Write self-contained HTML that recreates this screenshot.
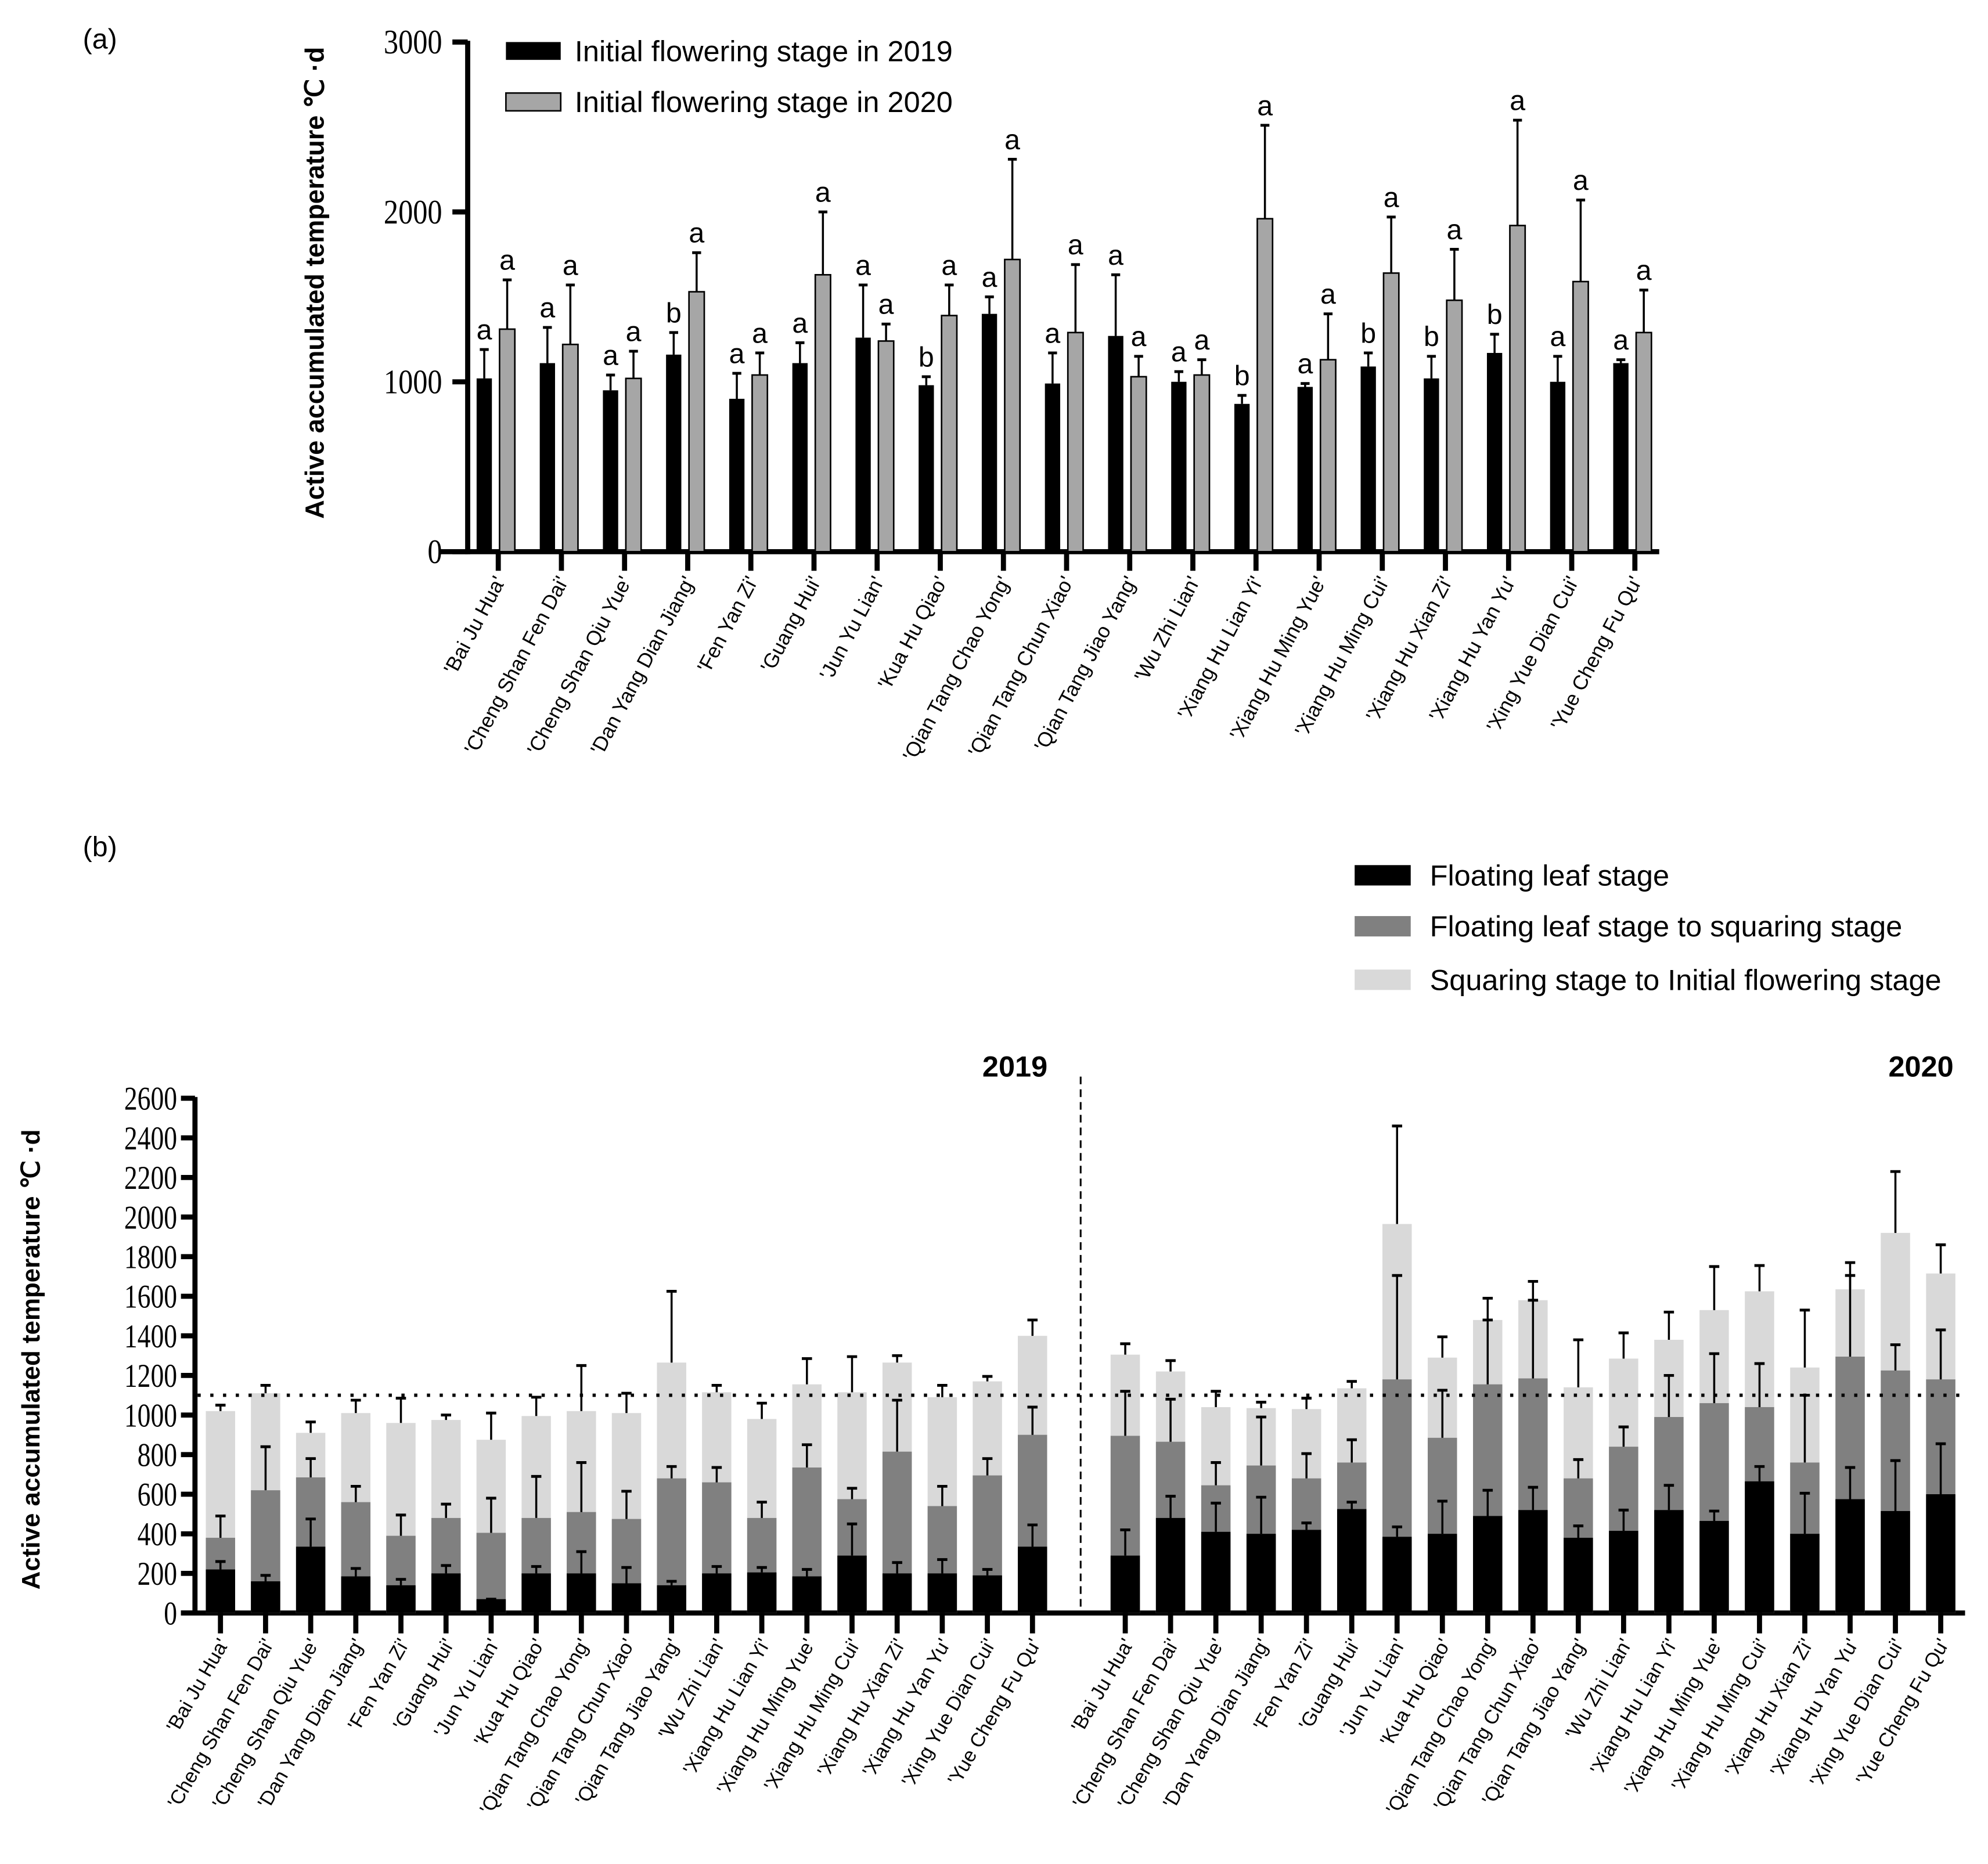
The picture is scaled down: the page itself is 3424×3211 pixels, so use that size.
<!DOCTYPE html>
<html><head><meta charset="utf-8"><style>
html,body{margin:0;padding:0;background:#fff}
svg{display:block}
.tk{font-family:"Liberation Serif",serif;fill:#000}
.ss{font-family:"Liberation Sans",sans-serif;fill:#000}
</style></head><body>
<svg id="chart" width="3424" height="3211" viewBox="0 0 1560 1463" preserveAspectRatio="none" xmlns="http://www.w3.org/2000/svg">
<text x="65" y="38" class="ss" font-size="22">(a)</text>
<text x="65" y="672" class="ss" font-size="22">(b)</text>
<g id="ga"></g>
<g id="gb"></g>
</svg>
<script>
const NS="http://www.w3.org/2000/svg";
const cultivars=["'Bai Ju Hua'","'Cheng Shan Fen Dai'","'Cheng Shan Qiu Yue'","'Dan Yang Dian Jiang'","'Fen Yan Zi'","'Guang Hui'","'Jun Yu Lian'","'Kua Hu Qiao'","'Qian Tang Chao Yong'","'Qian Tang Chun Xiao'","'Qian Tang Jiao Yang'","'Wu Zhi Lian'","'Xiang Hu Lian Yi'","'Xiang Hu Ming Yue'","'Xiang Hu Ming Cui'","'Xiang Hu Xian Zi'","'Xiang Hu Yan Yu'","'Xing Yue Dian Cui'","'Yue Cheng Fu Qu'"];
// Panel (a)
const a2019=[1020,1110,950,1160,900,1110,1260,980,1400,990,1270,1000,870,970,1090,1020,1170,1000,1110];
const a2019Err=[1190,1320,1040,1290,1050,1230,1570,1030,1500,1170,1630,1060,920,990,1170,1150,1280,1150,1130];
const a2019Sig=["a","a","a","b","a","a","a","b","a","a","a","a","b","a","b","b","b","a","a"];
const a2020=[1310,1220,1020,1530,1040,1630,1240,1390,1720,1290,1030,1040,1960,1130,1640,1480,1920,1590,1290];
const a2020Err=[1600,1570,1180,1760,1170,2000,1340,1570,2310,1690,1150,1130,2510,1400,1970,1780,2540,2070,1540];
const a2020Sig=["a","a","a","a","a","a","a","a","a","a","a","a","a","a","a","a","a","a","a"];
const aTicks=[0,1000,2000,3000];
// Panel (b)
const b19Float=[220,160,335,185,140,200,70,200,200,150,140,200,205,185,290,200,200,190,335];
const b19FloatErr=[260,190,475,225,170,240,70,235,310,230,160,235,230,220,450,255,270,220,445];
const b19Square=[380,620,685,560,390,480,405,480,510,475,680,660,480,735,575,815,540,695,900];
const b19SquareErr=[490,840,780,640,495,550,580,690,760,615,740,735,560,850,630,1075,640,780,1040];
const b19Flower=[1020,1110,910,1010,960,975,875,995,1020,1010,1265,1115,980,1155,1115,1265,1090,1170,1400];
const b19FlowerErr=[1050,1150,965,1075,1085,1000,1010,1090,1250,1110,1625,1150,1060,1285,1295,1300,1150,1195,1480];
const b20Float=[290,480,410,400,420,525,385,400,490,520,380,415,520,465,665,400,575,515,600];
const b20FloatErr=[420,590,555,585,455,560,435,565,620,635,440,520,645,515,740,605,735,770,855];
const b20Square=[895,865,645,745,680,760,1180,885,1155,1185,680,840,990,1060,1040,760,1295,1225,1180];
const b20SquareErr=[1120,1080,760,990,805,875,1705,1125,1480,1580,775,940,1200,1310,1260,1100,1705,1355,1430];
const b20Flower=[1305,1220,1040,1035,1030,1135,1965,1290,1480,1580,1140,1285,1380,1530,1625,1240,1635,1920,1715];
const b20FlowerErr=[1360,1275,1120,1065,1085,1170,2460,1395,1590,1675,1380,1415,1520,1750,1755,1530,1770,2230,1860];
const bTicks=[0,200,400,600,800,1000,1200,1400,1600,1800,2000,2200,2400,2600];
const threshold=[1100];

function el(tag,attrs,parent,text){const e=document.createElementNS(NS,tag);for(const k in attrs)e.setAttribute(k,attrs[k]);if(text!==undefined)e.textContent=text;parent.appendChild(e);return e;}

// ---------- Panel A ----------
const ga=document.getElementById('ga');
const ay=v=>433-v*(400/3000);
const ax=i=>391+i*49.55;
el('line',{x1:367,y1:ay(3000)-1,x2:367,y2:435,stroke:'#000','stroke-width':4},ga);
el('line',{x1:346,y1:433,x2:1302,y2:433,stroke:'#000','stroke-width':4},ga);
aTicks.forEach(t=>{
  const l=el('line',{x1:355,y1:ay(t),x2:367,y2:ay(t),stroke:'#000','stroke-width':4},ga);
  
  const tx=el('text',{x:347/0.85,y:ay(t)+9,'text-anchor':'end','font-size':27,class:'tk',transform:`scale(0.85,1)`},ga,String(t));
  
});
const at=el('text',{x:0,y:0,class:'ss','font-size':20.5,'font-weight':'bold','text-anchor':'middle',transform:'translate(254,222) rotate(-90)'},ga,'Active accumulated temperature \u2103 \u00b7d');

function errBar(g,x,yTop,yBase,w){
  const e1=el('line',{x1:x,y1:yTop,x2:x,y2:yBase,stroke:'#000','stroke-width':1.6},g);
  
  const e2=el('line',{x1:x-w,y1:yTop,x2:x+w,y2:yTop,stroke:'#000','stroke-width':2.2},g);
  
}
cultivars.forEach((c,i)=>{
  const cx=ax(i);
  const b1=el('rect',{x:cx-17,y:ay(a2019[i]),width:12,height:433-ay(a2019[i]),fill:'#000'},ga);
  
  errBar(ga,cx-11,ay(a2019Err[i]),ay(a2019[i]),3.5);
  const s1=el('text',{x:cx-11,y:ay(a2019Err[i])-8,'text-anchor':'middle','font-size':22,class:'ss'},ga,a2019Sig[i]);
  
  const b2=el('rect',{x:cx+1,y:ay(a2020[i]),width:12,height:433-ay(a2020[i]),fill:'#a6a6a6',stroke:'#000','stroke-width':1.2},ga);
  
  errBar(ga,cx+7,ay(a2020Err[i]),ay(a2020[i]),3.5);
  const s2=el('text',{x:cx+7,y:ay(a2020Err[i])-8,'text-anchor':'middle','font-size':22,class:'ss'},ga,a2020Sig[i]);
  
  const tk=el('line',{x1:cx,y1:433,x2:cx,y2:448,stroke:'#000','stroke-width':4},ga);
  
  const lb=el('text',{x:0,y:0,'text-anchor':'end','font-size':16,class:'ss',transform:`translate(${cx+6},${456}) rotate(-62)`},ga,c);
  
});
// legend a
const la1=el('rect',{x:397,y:33,width:43,height:14,fill:'#000'},ga);
const la1t=el('text',{x:451,y:48,'font-size':23,class:'ss'},ga,'Initial flowering stage in 2019');
const la2=el('rect',{x:397,y:73,width:43,height:14,fill:'#a6a6a6',stroke:'#000','stroke-width':1.2},ga);
const la2t=el('text',{x:451,y:88,'font-size':23,class:'ss'},ga,'Initial flowering stage in 2020');

// ---------- Panel B ----------
const gb=document.getElementById('gb');
const by=v=>1266-v*(404/2600);
const bx19=i=>173+i*35.4;
const bx20=i=>883+i*35.55;
el('line',{x1:153,y1:by(2600)-1,x2:153,y2:1268,stroke:'#000','stroke-width':4},gb);
el('line',{x1:142,y1:1266,x2:1542,y2:1266,stroke:'#000','stroke-width':4},gb);
bTicks.forEach(t=>{
  const l=el('line',{x1:142,y1:by(t),x2:153,y2:by(t),stroke:'#000','stroke-width':4},gb);
  
  const tx=el('text',{x:139/0.8,y:by(t)+9,'text-anchor':'end','font-size':26,class:'tk',transform:'scale(0.8,1)'},gb,String(t));
  
});
const bt=el('text',{x:0,y:0,class:'ss','font-size':20,'font-weight':'bold','text-anchor':'middle',transform:'translate(31,1067) rotate(-90)'},gb,'Active accumulated temperature \u2103 \u00b7d');

function stack(x,fl,fle,sq,sqe,fw,fwe){
  const r3=el('rect',{x:x-11.5,y:by(fw),width:23,height:1266-by(fw),fill:'#d9d9d9'},gb);
  
  const r2=el('rect',{x:x-11.5,y:by(sq),width:23,height:1266-by(sq),fill:'#808080'},gb);
  
  const r1=el('rect',{x:x-11.5,y:by(fl),width:23,height:1266-by(fl),fill:'#000'},gb);
  
  errBar(gb,x,by(fwe),by(fw),4);
  errBar(gb,x,by(sqe),by(sq),4);
  errBar(gb,x,by(fle),by(fl),4);
  const tk=el('line',{x1:x,y1:1266,x2:x,y2:1282,stroke:'#000','stroke-width':4},gb);
  
}
cultivars.forEach((c,i)=>{
  stack(bx19(i),b19Float[i],b19FloatErr[i],b19Square[i],b19SquareErr[i],b19Flower[i],b19FlowerErr[i]);
  stack(bx20(i),b20Float[i],b20FloatErr[i],b20Square[i],b20SquareErr[i],b20Flower[i],b20FlowerErr[i]);
  [bx19(i),bx20(i)].forEach(x=>{
    const lb=el('text',{x:0,y:0,'text-anchor':'end','font-size':15.5,class:'ss',transform:`translate(${x+7},${1290}) rotate(-60)`},gb,c);
    
  });
});
const th=el('line',{x1:155,y1:by(threshold[0]),x2:1542,y2:by(threshold[0]),stroke:'#000','stroke-width':2.6,'stroke-dasharray':'2.5 7.5'},gb);

const dv=el('line',{x1:848,y1:845,x2:848,y2:1266,stroke:'#000','stroke-width':1.4,'stroke-dasharray':'6 4'},gb);

const y1=el('text',{x:822,y:845,'text-anchor':'end','font-size':23,'font-weight':'bold',class:'ss'},gb,'2019');
const y2=el('text',{x:1533,y:845,'text-anchor':'end','font-size':23,'font-weight':'bold',class:'ss'},gb,'2020');
const legB=[["#000","Floating leaf stage",679],["#808080","Floating leaf stage to squaring stage",719],["#d9d9d9","Squaring stage to Initial flowering stage",761]];
legB.forEach(l=>{
  const r=el('rect',{x:1063,y:l[2],width:44,height:16,fill:l[0]},gb);
  
  const t=el('text',{x:1122,y:l[2]+16,'font-size':23,class:'ss'},gb,l[1]);
  
});
</script>
</body></html>
